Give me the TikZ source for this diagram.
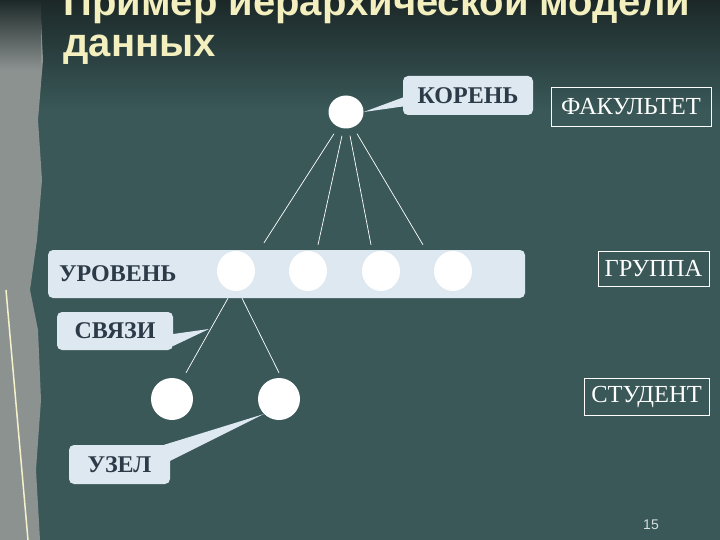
\documentclass[tikz,border=0pt]{standalone}
\usepackage{fontspec}
\setmainfont{Liberation Serif}
\newfontfamily\titlefont{Liberation Sans}
\usetikzlibrary{shapes.geometric}

\definecolor{slidebg}{HTML}{3A5858}
\definecolor{slidetop}{HTML}{1C2828}
\definecolor{bubblefill}{HTML}{DDE8F0}
\definecolor{bubbletext}{HTML}{2D3A48}
\definecolor{titlecol}{HTML}{F3EFBE}
\definecolor{stripcol}{HTML}{8C9290}

\tikzset{
  vertex/.style={ellipse, fill=white, draw=none, inner sep=0pt},
  bubble/.style={fill=bubblefill, rounded corners=5pt, inner sep=0pt,
    text=bubbletext, font=\bfseries\fontsize{24}{24}\selectfont},
  framelabel/.style={draw=white, line width=0.7pt, inner sep=0pt,
    text=white, font=\fontsize{24.5}{24.5}\selectfont},
  link/.style={draw=white, line width=0.7pt}
}

\begin{document}
\begin{tikzpicture}[x=1pt, y=-1pt]
% Set the slide frame
\useasboundingbox (0,0) rectangle (720,540);
\fill[slidebg] (0,0) rectangle (720,540);
\shade[top color=slidetop, bottom color=slidebg] (0,0) rectangle (720,110);

% Left decorative strip
\fill[stripcol] (0,0) -- (40,0) -- (43,60) -- (38,120) -- (42,180) -- (37,240)
  -- (30,290) -- (38,330) -- (41,400) -- (36,470) -- (40,540) -- (0,540) -- cycle;
\shade[top color=slidetop, bottom color=stripcol] (0,0) rectangle (41,70);
\draw[titlecol!80, line width=1.5pt] (6,290) -- (28,540);

% Title
\node[anchor=base west, text=titlecol, font=\titlefont\bfseries\fontsize{40}{40}\selectfont]
  (title1) at (60,16) {Пример иерархической модели};
\node[anchor=base west, text=titlecol, font=\titlefont\bfseries\fontsize{40}{40}\selectfont]
  (title2) at (60,57) {данных};

% Level band
\node[bubble, minimum height=48pt, text width=455pt, align=left, inner xsep=11pt]
  (level) at (286.5,274) {УРОВЕНЬ};

% Nodes of the tree
\node[vertex, minimum width=35pt, minimum height=33pt] (root) at (346,112) {};
\node[vertex, minimum width=38pt, minimum height=40pt] (g1) at (236,271) {};
\node[vertex, minimum width=38pt, minimum height=40pt] (g2) at (308,271) {};
\node[vertex, minimum width=38pt, minimum height=40pt] (g3) at (381,271) {};
\node[vertex, minimum width=38pt, minimum height=40pt] (g4) at (453,271) {};
\node[vertex, minimum width=42pt, minimum height=42pt] (n1) at (172,399) {};
\node[vertex, minimum width=42pt, minimum height=42pt] (n2) at (279,399) {};

% Connections
\draw[link] ([xshift=-12pt,yshift=-5pt]root.south) -- ([xshift=28pt,yshift=8pt]g1.north);
\draw[link] ([xshift=-4pt,yshift=-7pt]root.south) -- ([xshift=10pt,yshift=6pt]g2.north);
\draw[link] ([xshift=4pt,yshift=-7pt]root.south) -- ([xshift=-10pt,yshift=6pt]g3.north);
\draw[link] ([xshift=11pt,yshift=-5pt]root.south) -- ([xshift=-30pt,yshift=6pt]g4.north);
\draw[link] ([xshift=-8pt,yshift=-7pt]g1.south) -- ([xshift=14pt,yshift=5pt]n1.north);
\draw[link] ([xshift=6pt,yshift=-7pt]g1.south) -- ([xshift=0pt,yshift=5pt]n2.north);

% Callouts
\node[bubble, minimum width=130pt, minimum height=39pt] (koren) at (468,95.5) {КОРЕНЬ};
\fill[bubblefill] ([yshift=-2pt]koren.west) -- (root.east) -- ([yshift=-11pt]koren.west) -- cycle;

\node[bubble, minimum width=116pt, minimum height=38pt] (svyazi) at (115,331) {СВЯЗИ};
\coordinate (svtip) at (209,329);
\fill[bubblefill] ([yshift=-3pt]svyazi.east) -- (svtip) -- ([yshift=-15pt]svyazi.east) -- cycle;

\node[bubble, minimum width=101pt, minimum height=39pt] (uzel) at (119.5,464.5) {УЗЕЛ};
\fill[bubblefill] ([xshift=-6pt]uzel.north east) -- (n2.225) -- ([yshift=-16pt]uzel.north east) -- cycle;

% Level names
\node[framelabel, minimum width=160pt, minimum height=39pt] (fakultet) at (631,106.5) {ФАКУЛЬТЕТ};
\node[framelabel, minimum width=111pt, minimum height=35pt] (gruppa) at (653.5,268.5) {ГРУППА};
\node[framelabel, minimum width=125pt, minimum height=37pt] (student) at (646.5,396.5) {СТУДЕНТ};

% Page number
\node[text=white!80!slidebg, font=\titlefont\fontsize{14}{14}\selectfont] (page) at (651,525) {15};
\end{tikzpicture}
\end{document}
